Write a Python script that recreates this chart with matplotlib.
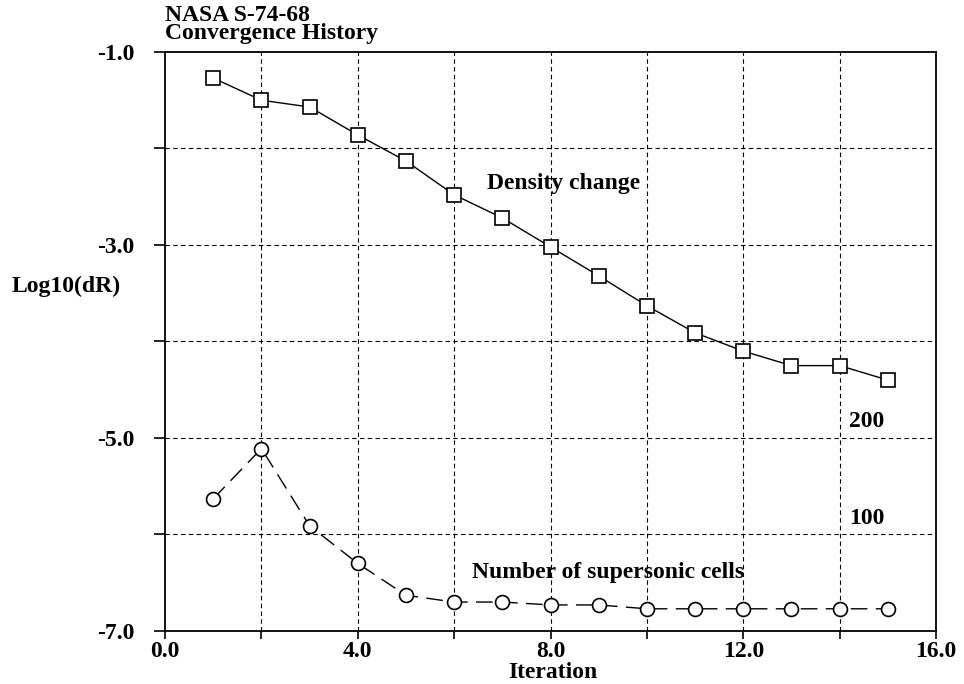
import matplotlib
matplotlib.use("Agg")
import matplotlib.pyplot as plt
import numpy as np

# data
iterations = [1, 2, 3, 4, 5, 6, 7, 8, 9, 10, 11, 12, 13, 14, 15]
log_dR = [-1.27, -1.50, -1.57, -1.86, -2.13, -2.48, -2.72, -3.02, -3.32,
          -3.63, -3.91, -4.10, -4.25, -4.25, -4.40]
super_cells = [137, 189, 109, 70, 37, 30, 30, 27, 27, 23, 23, 23, 23, 23, 23]
x_ticks = [0.0, 4.0, 8.0, 12.0, 16.0]
y_ticks = [-1.0, -3.0, -5.0, -7.0]
cell_labels = [100, 200]

plt.rcParams['font.family'] = ['Liberation Serif', 'DejaVu Serif']
fnt = dict(fontsize=17, fontweight='bold')

fig = plt.figure(figsize=(9.64, 6.84), dpi=100, facecolor='white')
ax = fig.add_axes([0.1712, 0.0775, 0.7998, 0.8465])
ax.set_xlim(0, 16)
ax.set_ylim(-7, -1)

# grid lines every 2 iterations and every 1 in log
for gx in np.arange(2, 16, 2):
    ax.axvline(gx, color='black', lw=0.8, ls=(0, (4, 3)), zorder=1)
for gy in np.arange(-6, -1, 1):
    ax.axhline(gy, color='black', lw=0.8, ls=(0, (4, 3)), zorder=1)

ax.set_xticks(np.arange(0, 17, 2))
ax.set_xticklabels(['%.1f' % t if t in x_ticks else '' for t in np.arange(0, 17, 2)], **fnt)
ax.set_yticks(np.arange(-7, 0, 1))
ax.set_yticklabels(['%.1f' % t if t in y_ticks else '' for t in np.arange(-7, 0, 1)], **fnt)
ax.tick_params(axis='y', direction='out', length=8, width=1.2, pad=14)
ax.tick_params(axis='x', direction='out', length=6, width=1.2, pad=1)
for s in ax.spines.values():
    s.set_linewidth(1.3)

ax.plot(iterations, log_dR, color='black', lw=1.0, marker='s', ms=10,
        mfc='white', mec='black', mew=1.2, zorder=3)

# supersonic cells drawn on the same frame: 0 cells at -7, 100 cells per decade
cells_y = [-7 + c / 100.0 for c in super_cells]
ax.plot(iterations, cells_y, color='black', lw=1.0, ls=(0, (12, 6)), marker='o', ms=10,
        mfc='white', mec='black', mew=1.2, zorder=3)
for c in cell_labels:
    ax.text(14.2, -7 + c / 100.0 + 0.17, str(c), ha='left', va='center', **fnt)

ax.text(6.68, -2.36, 'Density change', ha='left', va='center', **fnt)
ax.text(6.37, -6.39, 'Number of supersonic cells', ha='left', va='center', **fnt)

fig.text(0.1712, 1 - 44 / 684, 'NASA S-74-68\nConvergence History', ha='left', va='bottom',
         linespacing=0.8, **fnt)
fig.text(12 / 964, 1 - 286 / 684, 'Log10(dR)', ha='left', va='center', **fnt)
fig.text(553 / 964, 1 - 672 / 684, 'Iteration', ha='center', va='center', **fnt)

fig.savefig('out.png', dpi=100, facecolor='white')
